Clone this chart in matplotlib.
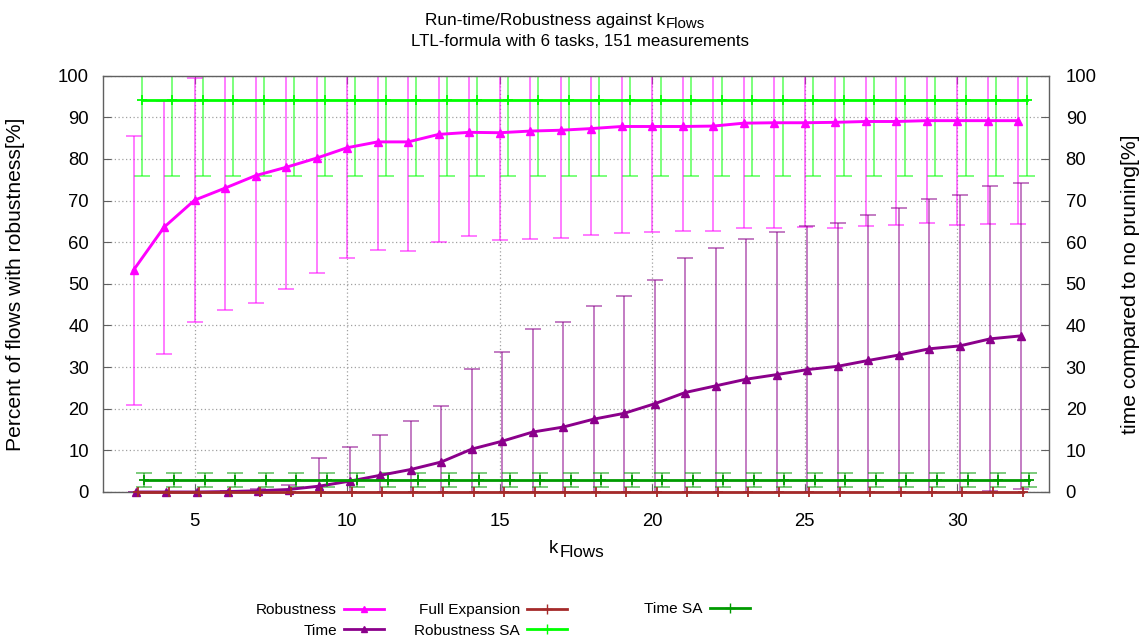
import matplotlib
matplotlib.use("Agg")
import matplotlib.pyplot as plt
from matplotlib.lines import Line2D
import numpy as np

plt.rcParams['font.family'] = ['Liberation Sans', 'DejaVu Sans']

# ---------------- data ----------------
k_flows = [3, 4, 5, 6, 7, 8, 9, 10, 11, 12, 13, 14, 15, 16, 17, 18, 19, 20,
           21, 22, 23, 24, 25, 26, 27, 28, 29, 30, 31, 32]

robustness = [53.3, 63.6, 70.1, 73.0, 76.0, 78.0, 80.2, 82.7, 84.1, 84.1,
              85.9, 86.4, 86.3, 86.7, 86.9, 87.3, 87.8, 87.8, 87.8, 87.9,
              88.6, 88.7, 88.7, 88.8, 89.0, 89.0, 89.2, 89.2, 89.2, 89.2]
robustness_err = [32.3, 30.4, 29.3, 29.3, 30.5, 29.3, 27.7, 26.5, 26.0, 26.3,
                  25.9, 25.0, 25.8, 25.9, 25.9, 25.5, 25.5, 25.4, 25.2, 25.3,
                  25.2, 25.3, 25.1, 25.3, 25.2, 24.9, 24.6, 25.0, 24.9, 24.9]

time_vals = [0.0, 0.0, 0.0, 0.1, 0.3, 0.6, 1.4, 2.6, 4.0, 5.4,
             7.2, 10.3, 12.2, 14.4, 15.6, 17.5, 18.9, 21.2, 23.9, 25.5,
             27.1, 28.2, 29.4, 30.2, 31.6, 32.9, 34.4, 35.1, 36.8, 37.5]
time_err = [0.0, 0.0, 0.05, 0.2, 0.4, 1.2, 6.7, 8.1, 9.7, 11.6,
            13.5, 19.2, 21.5, 24.8, 25.2, 27.1, 28.1, 29.8, 32.3, 33.1,
            33.6, 34.2, 34.4, 34.4, 34.9, 35.3, 35.9, 36.2, 36.6, 36.7]

full_expansion = [0.0] * 30

robustness_sa = [94.2] * 30
robustness_sa_err = [18.4] * 30

time_sa = [2.85] * 30
time_sa_err = [1.75] * 30

title_main = "Run-time/Robustness against k"
title_sub = "Flows"
title_line2 = "LTL-formula with 6 tasks, 151 measurements"
xlabel_main = "k"
xlabel_sub = "Flows"
ylabel_left = "Percent of flows with robustness[%]"
ylabel_right = "time compared to no pruning[%]"
xticks = [5, 10, 15, 20, 25, 30]
yticks = [0, 10, 20, 30, 40, 50, 60, 70, 80, 90, 100]
legend_col1 = ['Robustness', 'Time']
legend_col2 = ['Full Expansion', 'Robustness SA']
legend_col3 = ['Time SA']

# x offsets used by the original plot to separate the series
off_time, off_full, off_rsa, off_tsa = 0.08, 0.15, 0.27, 0.33

# ---------------- colours ----------------
c_rob = '#ff00ff'
c_time = '#8b008b'
c_full = '#a52a2a'
c_rsa = '#00ff00'
c_tsa = '#009a00'

W, H = 1144, 643
fig = plt.figure(figsize=(W / 100, H / 100), dpi=100)
ax = fig.add_axes([103 / W, 1 - 492 / H, (1049 - 103) / W, (492 - 75.7) / H])

x = np.array(k_flows, dtype=float)

cap = 5.5
ax.errorbar(x + off_rsa, robustness_sa, yerr=robustness_sa_err, fmt='none',
            ecolor=c_rsa, alpha=0.6, elinewidth=1.2, capsize=cap, capthick=1.2, zorder=2)
ax.errorbar(x, robustness, yerr=robustness_err, fmt='none',
            ecolor=c_rob, alpha=0.6, elinewidth=1.2, capsize=cap, capthick=1.2, zorder=2)
ax.errorbar(x + off_time, time_vals, yerr=time_err, fmt='none',
            ecolor=c_time, alpha=0.6, elinewidth=1.2, capsize=cap, capthick=1.2, zorder=2)
ax.errorbar(x + off_tsa, time_sa, yerr=time_sa_err, fmt='none',
            ecolor=c_tsa, alpha=0.6, elinewidth=1.2, capsize=cap, capthick=1.2, zorder=2)

ax.plot(x, robustness, '-^', color=c_rob, lw=2.1, ms=6.2, zorder=4)
ax.plot(x + off_time, time_vals, '-^', color=c_time, lw=2.1, ms=6.2, zorder=4, clip_on=False)
ax.plot(x + off_full, full_expansion, '-+', color=c_full, lw=2, ms=7, mew=1.3,
        zorder=5, clip_on=False)
ax.plot(x + off_rsa, robustness_sa, '-+', color=c_rsa, lw=2, ms=7, mew=1.3, zorder=4)
ax.plot(x + off_tsa, time_sa, '-+', color=c_tsa, lw=2, ms=7, mew=1.3, zorder=4)

ax.set_xlim(2, 33)
ax.set_ylim(0, 100)
ax.set_xticks(xticks)
ax.set_yticks(yticks)
ax.grid(True, color='#a0a0a0', linestyle=(0, (1, 2)), lw=0.9)
ax.set_axisbelow(True)

for s in ax.spines.values():
    s.set_color('#606060')
    s.set_linewidth(1.0)

ax.tick_params(axis='both', direction='in', length=6, color='#606060',
               labelsize=13.3, top=True)
ax.tick_params(axis='x', pad=15)
ax.tick_params(axis='y', pad=10)

ax2 = ax.twinx()
ax2.set_ylim(0, 100)
ax2.set_yticks(yticks)
ax2.tick_params(axis='y', direction='in', length=6, color='#606060',
                labelsize=13.3, pad=12)
for s in ax2.spines.values():
    s.set_visible(False)

ax.set_ylabel(ylabel_left, fontsize=15.2)
ax.yaxis.set_label_coords((25 - 103) / 946, 0.5)
ax2.set_ylabel(ylabel_right, fontsize=15.2, rotation=90)
ax2.yaxis.set_label_coords((1121 - 103) / 946, 0.5)

renderer = fig.canvas.get_renderer()


def text_with_sub(x_px, base_px, main, sub, size, subsize, drop_px, align='center'):
    t1 = fig.text(0, 0, main, fontsize=size, va='baseline', ha='left')
    t2 = fig.text(0, 0, sub, fontsize=subsize, va='baseline', ha='left')
    w1 = t1.get_window_extent(renderer).width
    w2 = t2.get_window_extent(renderer).width
    x0 = x_px - (w1 + w2) / 2 if align == 'center' else x_px
    t1.set_position((x0 / W, 1 - base_px / H))
    t2.set_position(((x0 + w1 + 1) / W, 1 - (base_px + drop_px) / H))


# titles
text_with_sub(425, 24.5, title_main, title_sub, 12.4, 10.8, 3, align='left')
fig.text(580 / W, 1 - 46.5 / H, title_line2, ha='center', va='baseline', fontsize=12.2)

# x label
text_with_sub(576, 553, xlabel_main, xlabel_sub, 13.5, 12.3, 4, align='center')

# legends (gnuplot style: text right-aligned, sample on the right)
leg_kw = dict(frameon=False, markerfirst=False, fontsize=11.1, handlelength=2.6,
              handletextpad=0.45, borderpad=0, borderaxespad=0, labelspacing=0.42)
h1 = [Line2D([], [], color=c_rob, lw=2, marker='^', ms=5),
      Line2D([], [], color=c_time, lw=2, marker='^', ms=5)]
h2 = [Line2D([], [], color=c_full, lw=2, marker='+', ms=7),
      Line2D([], [], color=c_rsa, lw=2, marker='+', ms=7)]
h3 = [Line2D([], [], color=c_tsa, lw=2, marker='+', ms=7)]
fig.legend(h1, legend_col1, loc='center right',
           bbox_to_anchor=(384 / W, 1 - 620.5 / H), **leg_kw)
fig.legend(h2, legend_col2, loc='center right',
           bbox_to_anchor=(567 / W, 1 - 620.5 / H), **leg_kw)
fig.legend(h3, legend_col3, loc='center right',
           bbox_to_anchor=(750 / W, 1 - 609 / H), **leg_kw)

fig.savefig('out.png', dpi=100)
